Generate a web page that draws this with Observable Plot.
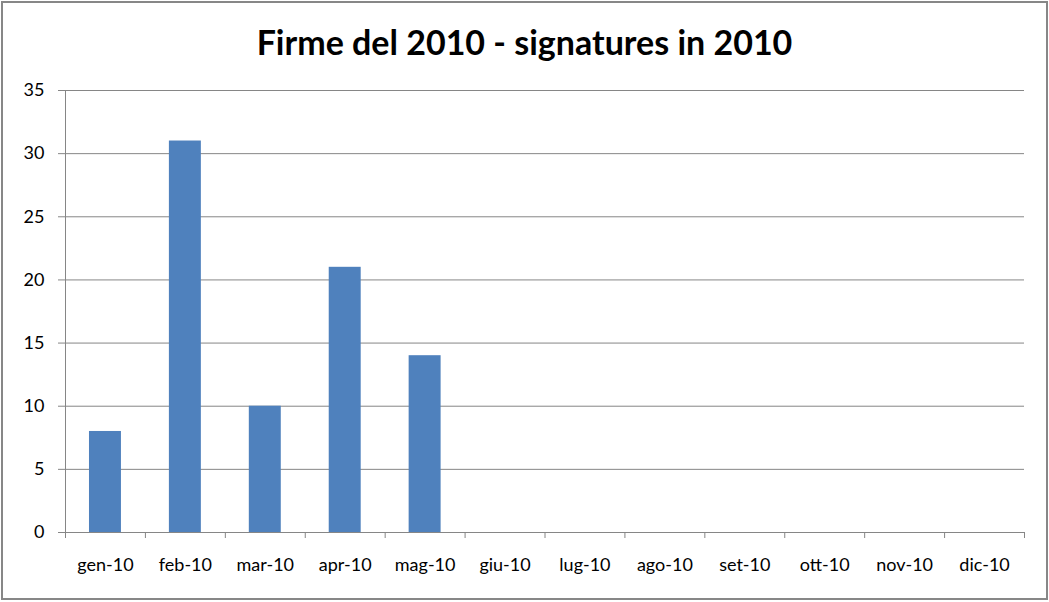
<!DOCTYPE html>
<html>
<head>
<meta charset="utf-8">
<script src="https://cdn.jsdelivr.net/npm/d3@7"></script>
<script src="https://cdn.jsdelivr.net/npm/@observablehq/plot@0.6"></script>
<style>
  html, body { margin: 0; padding: 0; background: #fff; }
  #wrap { position: relative; width: 1049px; height: 602px; overflow: hidden; background: #fff; }
  #border { position: absolute; left: 1px; top: 1px; width: 1043px; height: 595px; border: 2px solid #878787; pointer-events: none; }
  #title { position: absolute; left: 0; top: 21px; width: 1049px; text-align: center;
           font-family: Lato, "Open Sans", sans-serif; font-weight: bold; font-size: 34px; color: #000; }
  #chart { position: absolute; left: 0; top: 0; }
</style>
</head>
<body>
<div id="wrap">
  <div id="chart"></div>
  <div id="title">Firme del 2010 - signatures in 2010</div>
  <div id="border"></div>
</div>
<script>
const months = ["gen-10","feb-10","mar-10","apr-10","mag-10","giu-10","lug-10","ago-10","set-10","ott-10","nov-10","dic-10"];
const signatures = [8, 31, 10, 21, 14, 0, 0, 0, 0, 0, 0, 0];
const yTicks = [0, 5, 10, 15, 20, 25, 30, 35];

const data = months.map((m, i) => ({month: m, value: signatures[i]}));
const gray = "#868686";
const W = 1049, H = 602, mL = 65, mR = 25, mT = 90, mB = 70;
const step = (W - mL - mR) / months.length;

const plot = Plot.plot({
  width: W,
  height: H,
  marginLeft: mL,
  marginRight: mR,
  marginTop: mT,
  marginBottom: mB,
  style: {fontFamily: "Lato, 'Open Sans', sans-serif", fontSize: "18px", color: "#000", background: "transparent"},
  x: {type: "band", domain: months, paddingInner: 0.6, paddingOuter: 0.3, round: false, label: null},
  y: {domain: [0, 35], ticks: yTicks, label: null},
  marks: [
    Plot.gridY(yTicks, {stroke: gray, strokeOpacity: 1, strokeWidth: 1}),
    Plot.frame({anchor: "left", stroke: gray}),
    Plot.barY(data, {x: "month", y: "value", fill: "#4F81BD"}),
    Plot.ruleY([0], {stroke: gray}),
    Plot.ruleX(months, {x: d => d, dx: -step / 2, stroke: gray, insetTop: H - mT - mB, insetBottom: -6}),
    Plot.ruleX(months.slice(-1), {x: d => d, dx: step / 2, stroke: gray, insetTop: H - mT - mB, insetBottom: -6}),
    Plot.axisY(yTicks, {tickSize: 7, tickPadding: 14, stroke: gray, fill: "#000", fontSize: 18}),
    Plot.axisX(months, {tickSize: 0, tickPadding: 26, fill: "#000", fontSize: 18})
  ]
});
document.getElementById("chart").appendChild(plot);
</script>
</body>
</html>
